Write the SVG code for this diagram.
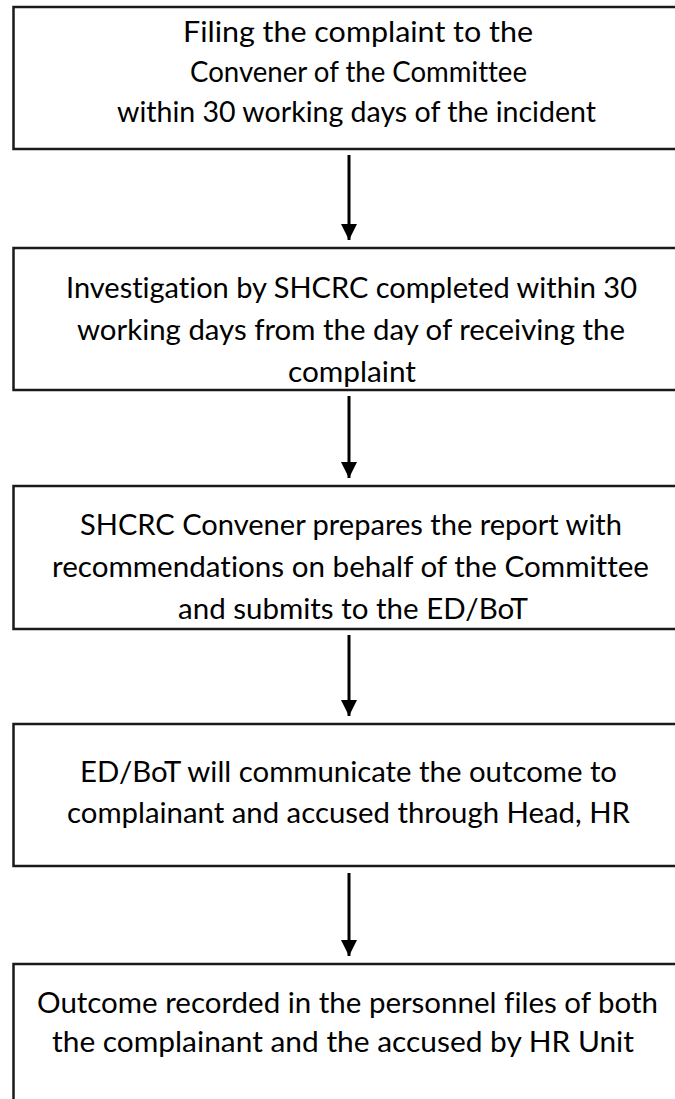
<svg xmlns="http://www.w3.org/2000/svg" width="675" height="1099" viewBox="0 0 675 1099">
<defs>
<style>
.box{fill:#fff;stroke:#1a1a1a;stroke-width:2.5}
.t{font-family:Lato,"Liberation Sans",sans-serif;font-size:29px;fill:#000;font-variant-ligatures:none}
.c{stroke:#000;stroke-width:3;fill:none}
</style>
<marker id="ah" markerUnits="userSpaceOnUse" markerWidth="16" markerHeight="16" viewBox="0 0 16 16" refX="16" refY="8" orient="auto">
<path d="M0,0 L16,8 L0,16 Z" fill="#000"/>
</marker>
</defs>
<rect width="675" height="1099" fill="#fff"/>
<g id="n1">
<rect class="box" x="13.5" y="7" width="700" height="142"/>
<text class="t" x="183" y="42" textLength="350" lengthAdjust="spacingAndGlyphs">Filing the complaint to the</text>
<text class="t" x="190" y="82" textLength="337" lengthAdjust="spacingAndGlyphs">Convener of the Committee</text>
<text class="t" x="117" y="122" textLength="479" lengthAdjust="spacingAndGlyphs">within 30 working days of the incident</text>
</g>
<g id="n2">
<rect class="box" x="13.5" y="248" width="700" height="142"/>
<text class="t" x="66" y="298" textLength="571" lengthAdjust="spacingAndGlyphs">Investigation by SHCRC completed within 30</text>
<text class="t" x="77" y="340" textLength="548" lengthAdjust="spacingAndGlyphs">working days from the day of receiving the</text>
<text class="t" x="288" y="382" textLength="128" lengthAdjust="spacingAndGlyphs">complaint</text>
</g>
<g id="n3">
<rect class="box" x="13.5" y="486" width="700" height="143"/>
<text class="t" x="80" y="535" textLength="542" lengthAdjust="spacingAndGlyphs">SHCRC Convener prepares the report with</text>
<text class="t" x="52" y="577" textLength="597" lengthAdjust="spacingAndGlyphs">recommendations on behalf of the Committee</text>
<text class="t" x="178" y="619" textLength="350" lengthAdjust="spacingAndGlyphs">and submits to the ED/BoT</text>
</g>
<g id="n4">
<rect class="box" x="13.5" y="724" width="700" height="142"/>
<text class="t" x="80" y="782" textLength="537" lengthAdjust="spacingAndGlyphs">ED/BoT will communicate the outcome to</text>
<text class="t" x="67" y="823" textLength="563" lengthAdjust="spacingAndGlyphs">complainant and accused through Head, HR</text>
</g>
<g id="n5">
<rect class="box" x="13.5" y="964" width="700" height="200"/>
<text class="t" x="37" y="1013" textLength="621" lengthAdjust="spacingAndGlyphs">Outcome recorded in the personnel files of both</text>
<text class="t" x="52" y="1052" textLength="582" lengthAdjust="spacingAndGlyphs">the complainant and the accused by HR Unit</text>
</g>
<g id="connectors">
<line class="c" x1="349" y1="155" x2="349" y2="240" marker-end="url(#ah)"/>
<line class="c" x1="349" y1="396" x2="349" y2="478" marker-end="url(#ah)"/>
<line class="c" x1="349" y1="635" x2="349" y2="716" marker-end="url(#ah)"/>
<line class="c" x1="349" y1="873" x2="349" y2="956" marker-end="url(#ah)"/>
</g>
</svg>
